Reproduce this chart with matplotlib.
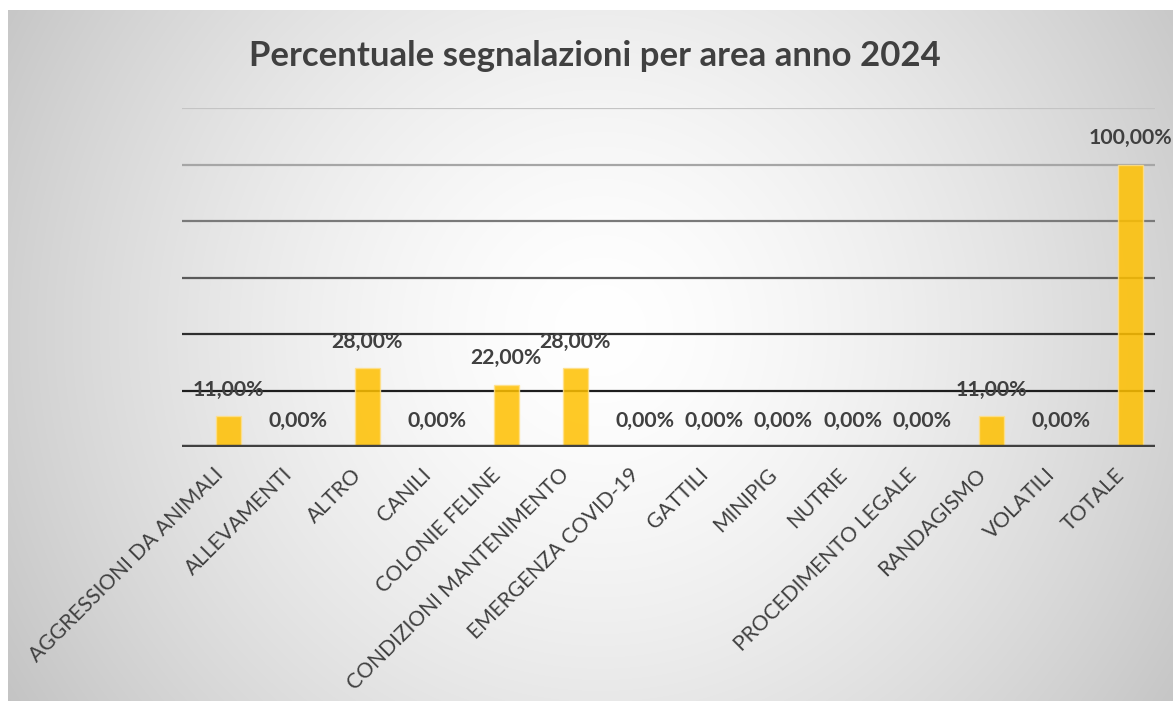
import numpy as np
import matplotlib
matplotlib.use("Agg")
import matplotlib.pyplot as plt
import matplotlib.transforms as mtransforms

categories = ["AGGRESSIONI DA ANIMALI", "ALLEVAMENTI", "ALTRO", "CANILI", "COLONIE FELINE",
              "CONDIZIONI MANTENIMENTO", "EMERGENZA COVID-19", "GATTILI", "MINIPIG", "NUTRIE",
              "PROCEDIMENTO LEGALE", "RANDAGISMO", "VOLATILI", "TOTALE"]
values = [11, 0, 28, 0, 22, 28, 0, 0, 0, 0, 0, 11, 0, 100]
title = "Percentuale segnalazioni per area anno 2024"

W, H = 1173, 701
fig = plt.figure(figsize=(W / 100, H / 100), dpi=100)
fig.patch.set_facecolor("white")

# background card with radial gradient
bg = fig.add_axes([8 / W, 0, 1 - 8 / W, 1 - 10 / H])
xs = np.arange(8, W)
ys = np.arange(10, H)
X, Y = np.meshgrid(xs, ys)
r = np.sqrt((X - 600) ** 2 + ((Y - 330) * 1.0) ** 2)
val = 255 - 57 * np.clip(r / 680, 0, 1.3) ** 1.5
val = np.clip(val, 185, 255) / 255
img = np.dstack([val, val, val])
bg.imshow(img, aspect="auto", interpolation="bilinear")
bg.set_axis_off()

font = "Lato"
ax = fig.add_axes([181.7 / W, (H - 447) / H, (1155 - 181.7) / W, (447 - 108) / H])
ax.patch.set_alpha(0)
ax.set_ylim(0, 120)
ax.set_xlim(-0.68, 13.36)

grid_colors = {20: "#1e1e1e", 40: "#2e2e2e", 60: "#5a5a5a", 80: "#7a7a7a", 100: "#a6a6a6", 120: "#c4c4c4"}
for yv, c in grid_colors.items():
    ax.axhline(yv, color=c, lw=1.6, zorder=1)
ax.axhline(0, color="#404040", lw=3.2, zorder=4)

x = np.arange(len(categories))
ax.bar(x, values, width=0.36, color="#FFC000", alpha=0.85, edgecolor="#FFE08A",
       linewidth=1.0, zorder=2)

for xi, v in zip(x, values):
    ax.annotate(f"{v:.2f}%".replace(".", ","), (xi, v), xytext=(0, 19),
                textcoords="offset points", ha="center", va="center",
                fontsize=15.3, fontweight="bold", color="#404040", family=font, zorder=5)

ax.set_yticks([])
ax.set_xticks(x)
ax.set_xticklabels(categories, rotation=45, ha="right", va="center",
                   rotation_mode="anchor", fontsize=15.2, color="#404040", family=font)
ax.tick_params(axis="x", length=0, pad=12)
shift = mtransforms.ScaledTranslation(-9 / 100, -8 / 100, fig.dpi_scale_trans)
for lbl in ax.get_xticklabels():
    lbl.set_transform(lbl.get_transform() + shift)
for s in ax.spines.values():
    s.set_visible(False)

fig.text(595 / W, 1 - 56 / H, title, ha="center", va="center", fontsize=25,
         fontweight="bold", color="#404040", family=font)

fig.savefig("out.png", dpi=100)
